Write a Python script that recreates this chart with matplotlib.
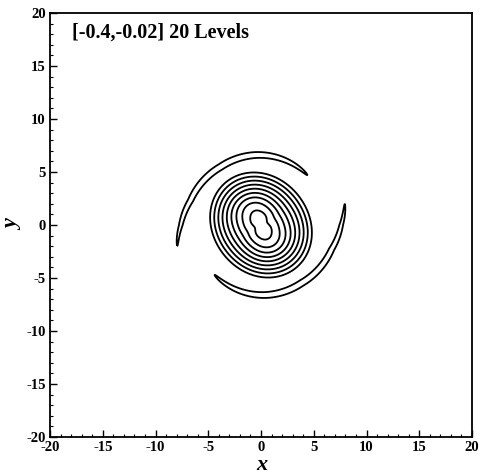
import numpy as np
import matplotlib
matplotlib.use("Agg")
import matplotlib.pyplot as plt

plt.rcParams["axes.unicode_minus"] = False

# contour levels shown in the reference
level_min, level_max, n_levels = -0.4, -0.02, 20

# core vortex: rounded cone, tilted ellipse, more stretched near the centre
core_slope = 0.056
core_edge = 5.72
core_round = 2.3
core_soft = 0.12
angle_outer_deg = -50.0
angle_inner_deg = -68.0
stretch_outer = (1.07, 0.93)
stretch_inner = (1.65, 0.86)
stretch_radius = 2.5

# small ridge across the middle that pinches the kidney shape
waist_height = 0.006
waist_size = (0.45, 1.5)

# spiral arm centre line (upper arm, the lower one is the 180 deg copy)
arm_theta_deg = [47, 94, 125, 161, 180, 194]
arm_radius = [6.44, 6.62, 6.69, 7.07, 7.6, 8.18]
arm_depth = (0.02, 0.013)
arm_width = 0.42

ticks_major = [-20, -15, -10, -5, 0, 5, 10, 15, 20]


def core_field(x, y):
    w = np.exp(-(np.hypot(x, y) / stretch_radius) ** 2)
    a = np.deg2rad(angle_outer_deg + (angle_inner_deg - angle_outer_deg) * w)
    u = x * np.cos(a) + y * np.sin(a)
    v = -x * np.sin(a) + y * np.cos(a)
    ka = stretch_outer[0] + (stretch_inner[0] - stretch_outer[0]) * w
    kb = stretch_outer[1] + (stretch_inner[1] - stretch_outer[1]) * w
    rho = np.sqrt((u / ka) ** 2 + (v / kb) ** 2)
    g = np.sqrt(rho ** 2 + core_round ** 2)
    f = -core_slope * core_soft * np.logaddexp(0, (core_edge - g) / core_soft)
    f += waist_height * np.exp(-(u / waist_size[0]) ** 2 - (v / waist_size[1]) ** 2)
    return f


def arm_field(x, y):
    r = np.hypot(x, y)
    th = np.degrees(np.arctan2(y, x)) % 360.0
    t0, t1 = arm_theta_deg[0], arm_theta_deg[-1]
    inside = (th >= t0) & (th <= t1)
    s = np.clip((th - t0) / (t1 - t0), 0, 1)
    amp = np.where(inside, arm_depth[0] + arm_depth[1] * np.sin(np.pi * s), 0.0)
    r0 = np.interp(th, arm_theta_deg, arm_radius)
    return -amp * np.exp(-((r - r0) / arm_width) ** 2)


xs = np.linspace(-12, 12, 961)
X, Y = np.meshgrid(xs, xs)
F = core_field(X, Y) + arm_field(X, Y) + arm_field(-X, -Y)

fig = plt.figure(figsize=(4.8, 4.76), dpi=100)
ax = fig.add_axes([50 / 480, 39 / 476, 422 / 480, 424 / 476])

levels = np.linspace(level_min, level_max, n_levels)
ax.contour(X, Y, F, levels=levels, colors="k", linewidths=1.3,
           linestyles="solid")

ax.set_xlim(-20, 20)
ax.set_ylim(-20, 20)
ax.set_xticks(ticks_major)
ax.set_yticks(ticks_major)
ax.set_xticks(np.arange(-20, 21, 1), minor=True)
ax.set_yticks(np.arange(-20, 21, 1), minor=True)
ax.tick_params(which="both", direction="in", top=False, right=False)
ax.tick_params(which="major", length=5, width=1, pad=3)
ax.tick_params(which="minor", length=2.5, width=0.8)
for sp in ax.spines.values():
    sp.set_linewidth(1.3)

serif = ["Liberation Serif", "DejaVu Serif"]
for lab in ax.get_xticklabels() + ax.get_yticklabels():
    lab.set_family(serif)
    lab.set_fontweight("bold")
    lab.set_fontsize(10.5)

ax.text(0.052, 0.953, "[-0.4,-0.02] 20 Levels", transform=ax.transAxes,
        ha="left", va="center", family=serif, fontweight="bold", fontsize=14.5)

fig.text(262 / 480, 1 - 465 / 476, "x", ha="center", va="center",
         family=serif, fontweight="bold", style="italic", fontsize=16)
fig.text(13 / 480, 1 - 225 / 476, "y", ha="center", va="center", rotation=90,
         family=serif, fontweight="bold", style="italic", fontsize=16)

fig.savefig("out.png", dpi=100)
